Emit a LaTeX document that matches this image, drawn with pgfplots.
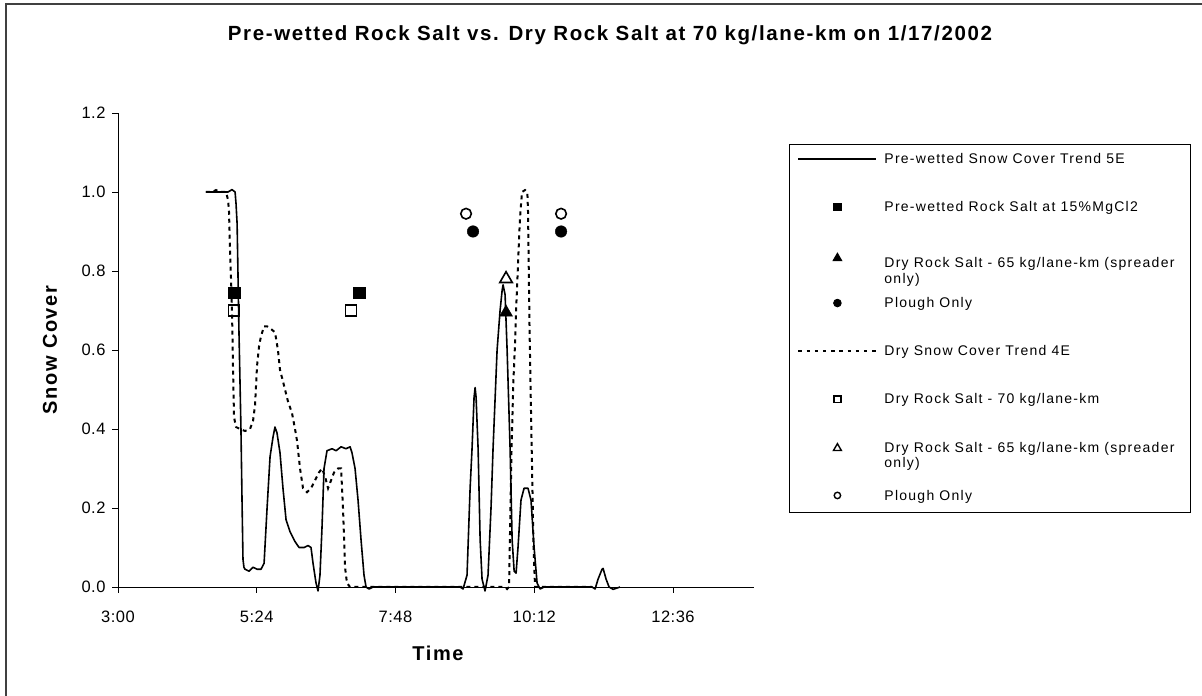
\documentclass[border=0pt]{standalone}
\usepackage{fontspec}
\setmainfont{Liberation Sans}
\newfontfamily\titlefont[LetterSpace=8]{Liberation Sans}
\newfontfamily\labfont[LetterSpace=8]{Liberation Sans}
\newfontfamily\legfont[LetterSpace=9]{Liberation Sans}
\newfontfamily\tickfont[LetterSpace=3]{Liberation Sans}
\usepackage{pgfplots}
\pgfplotsset{compat=1.18}
\usepackage{pgfplotstable}

\pgfplotstableread{
t v
271.3 1.0
280.7 1.0
287.9 1.0
294.2 1.0
298.3 1.006
301.5 1.0
302.5 0.97
303.6 0.92
304.6 0.78
305.5 0.65
306.6 0.52
307.6 0.40
308.7 0.22
309.7 0.07
310.7 0.05
311.8 0.045
315.9 0.04
320.1 0.05
324.3 0.045
328.4 0.045
331.6 0.06
334.7 0.20
337.8 0.33
340.9 0.38
342.9 0.405
345.0 0.39
348.1 0.34
351.2 0.25
354.4 0.17
358.5 0.14
363.7 0.115
367.9 0.10
373.1 0.10
377.2 0.105
380.3 0.10
382.4 0.06
385.5 0.01
387.6 -0.01
389.6 0.03
391.7 0.15
393.8 0.30
396.9 0.345
402.1 0.35
406.3 0.345
411.5 0.355
416.6 0.35
420.8 0.355
422.8 0.34
426.0 0.30
429.1 0.22
432.2 0.12
435.3 0.03
437.4 0.0
440.5 -0.005
444.7 0.0
535.0 0.0
538.1 -0.005
542.2 0.03
545.4 0.25
547.4 0.35
549.5 0.48
550.6 0.505
551.6 0.48
553.7 0.35
555.8 0.12
557.8 0.02
560.9 -0.01
564.0 0.03
567.1 0.20
569.2 0.35
573.4 0.60
576.5 0.70
578.6 0.75
579.6 0.765
581.7 0.74
583.8 0.60
586.9 0.35
589.0 0.12
591.1 0.04
593.1 0.035
595.1 0.10
598.2 0.22
601.4 0.25
605.5 0.25
608.6 0.22
611.8 0.10
614.9 0.01
618.0 -0.005
622.2 0.0
672.0 0.0
675.1 -0.005
678.2 0.02
682.3 0.045
683.4 0.047
686.5 0.02
689.6 0.0
693.8 -0.006
701.0 0.0
}\solidtab

\pgfplotstableread{
t v
271.3 1.0
277.5 1.0
281.7 1.005
285.9 1.0
292.1 1.0
294.2 0.98
295.2 0.95
296.3 0.85
297.3 0.78
298.3 0.70
299.4 0.55
300.4 0.43
302.5 0.405
306.6 0.40
311.8 0.395
317.0 0.40
320.1 0.42
322.2 0.46
324.3 0.56
326.4 0.61
328.4 0.635
331.6 0.66
334.7 0.66
337.8 0.655
342.9 0.645
346.0 0.60
348.1 0.55
352.3 0.51
356.4 0.47
360.6 0.44
363.7 0.40
365.8 0.37
368.9 0.30
372.0 0.25
376.2 0.24
380.3 0.25
384.4 0.27
388.6 0.29
391.7 0.30
394.8 0.28
398.0 0.25
401.1 0.27
404.2 0.29
408.4 0.30
411.5 0.30
413.5 0.20
415.6 0.05
417.6 0.01
420.8 0.0
581.7 0.0
583.8 -0.005
585.8 0.0
586.9 0.15
588.4 0.35
590.3 0.52
592.1 0.62
593.1 0.70
594.5 0.78
596.5 0.90
597.6 0.95
599.3 1.0
602.4 1.005
604.8 1.0
605.5 0.95
607.1 0.65
608.4 0.47
609.7 0.30
611.2 0.10
612.8 0.0
618.0 0.0
672.0 0.0
}\drytab

\newcommand{\twoline}[2]{\makebox[298pt][l]{\vtop{\hbox{#1}\hbox{#2}}}}
\newcommand{\oneline}[1]{\makebox[298pt][l]{#1}}

\pgfplotsset{
  legsolid/.style={legend image code/.code={\draw[black, line width=1.6pt] (0pt,4.7pt) -- (78pt,4.7pt);}},
  legdash/.style={legend image code/.code={\draw[black, line width=2pt, dash pattern=on 3.4pt off 4.8pt] (0pt,4.7pt) -- (78pt,4.7pt);}},
  legfsq/.style={legend image code/.code={\draw[black, only marks, mark=square*, mark size=3.8pt] plot coordinates {(39pt,4.7pt)};}},
  legftri/.style={legend image code/.code={\draw[black, only marks, mark=triangle*, mark size=5pt] plot coordinates {(39pt,9.5pt)};}},
  legfcirc/.style={legend image code/.code={\draw[black, only marks, mark=*, mark size=3.8pt] plot coordinates {(39pt,4.7pt)};}},
  legosq/.style={legend image code/.code={\draw[black, only marks, mark=square, mark size=3.4pt, mark options={line width=1.4pt}] plot coordinates {(39pt,4.7pt)};}},
  legotri/.style={legend image code/.code={\draw[black, only marks, mark=triangle, mark size=4.6pt, mark options={line width=1.4pt}] plot coordinates {(39pt,3.8pt)};}},
  legocirc/.style={legend image code/.code={\draw[black, only marks, mark=o, mark size=3.2pt, mark options={line width=1.4pt}] plot coordinates {(39pt,4.7pt)};}},
}

\begin{document}
\begin{tikzpicture}
\useasboundingbox (0pt,0pt) rectangle (1202pt,696pt);
\draw[line width=2pt, black!75] (5.5pt,-5pt) -- (5.5pt,691.7pt) -- (1210pt,691.7pt);
\begin{axis}[
  at={(118pt,109pt)}, anchor=south west,
  scale only axis, width=636pt, height=474pt,
  xmin=180, xmax=840, ymin=0, ymax=1.2,
  clip=false,
  axis x line*=bottom, axis y line*=left,
  axis line style={-, line width=0.9pt, black},
  tick align=outside, major tick length=6pt,
  tick style={black, line width=0.9pt},
  xtick={180,324,468,612,756},
  xticklabels={3:00,5:24,7:48,10:12,12:36},
  ytick={0,0.2,0.4,0.6,0.8,1.0,1.2},
  yticklabels={0.0,0.2,0.4,0.6,0.8,1.0,1.2},
  xticklabel style={font=\tickfont\fontsize{16.5}{19}\selectfont, yshift=-14pt},
  yticklabel style={font=\tickfont\fontsize{16.5}{19}\selectfont, xshift=-3pt},
  title={Pre-wetted Rock Salt vs. Dry Rock Salt at 70 kg/lane-km on 1/17/2002},
  title style={at={(axis description cs:0.7736,1.1399)}, anchor=base,
    font=\titlefont\bfseries\fontsize{20.5}{24}\selectfont},
  xlabel={Time},
  xlabel style={at={(axis description cs:0.5031,-0.1392)}, anchor=center,
    font=\labfont\bfseries\fontsize{20}{24}\selectfont},
  ylabel={Snow Cover},
  ylabel style={at={(axis description cs:-0.1069,0.5)}, anchor=center,
    font=\labfont\bfseries\fontsize{20}{24}\selectfont},
  legend cell align=left,
  legend style={at={(axis description cs:1.0550,0.9346)}, anchor=north west,
    draw=black, line width=0.9pt, fill=white,
    inner xsep=8pt, inner ysep=0pt, row sep=0pt, column sep=7pt,
    font=\legfont\fontsize{14}{15.5}\selectfont,
    cells={anchor=base west},
    nodes={inner sep=0pt, text height=19pt, text depth=29.1pt, anchor=base west}},
]
\addplot[black, line width=1.6pt, no marks, line join=round, legsolid]
  table[x=t,y=v]{\solidtab};
\addlegendentry{\oneline{Pre-wetted Snow Cover Trend 5E}}

\addplot[black, only marks, mark=square*, mark size=5.8pt, legfsq]
  coordinates {(300.4,0.745) (430.1,0.745)};
\addlegendentry[text depth=37.1pt]{\oneline{Pre-wetted Rock Salt at 15\%MgCl2}}

\addplot[black, only marks, mark=triangle*, mark size=7.5pt, legftri]
  coordinates {(582.7,0.695)};
\addlegendentry[text depth=21.1pt]{\twoline{Dry Rock Salt - 65 kg/lane-km (spreader}{only)}}

\addplot[black, only marks, mark=*, mark size=5.8pt, legfcirc]
  coordinates {(548.4,0.90) (639.8,0.90)};
\addlegendentry{\oneline{Plough Only}}

\addplot[black, line width=2pt, dash pattern=on 4pt off 4pt, no marks, legdash]
  table[x=t,y=v]{\drytab};
\addlegendentry{\oneline{Dry Snow Cover Trend 4E}}

\addplot[black, only marks, mark=square, mark size=5.6pt, mark options={line width=1.6pt}, legosq]
  coordinates {(300.4,0.70) (421.8,0.70)};
\addlegendentry{\oneline{Dry Rock Salt - 70 kg/lane-km}}

\addplot[black, only marks, mark=triangle, mark size=7.2pt, mark options={line width=1.6pt}, legotri]
  coordinates {(582.7,0.78)};
\addlegendentry{\twoline{Dry Rock Salt - 65 kg/lane-km (spreader}{only)}}

\addplot[black, only marks, mark=o, mark size=5.3pt, mark options={line width=1.6pt}, legocirc]
  coordinates {(541.2,0.945) (639.8,0.945)};
\addlegendentry[text depth=12pt]{\oneline{Plough Only}}
\end{axis}
\end{tikzpicture}
\end{document}
